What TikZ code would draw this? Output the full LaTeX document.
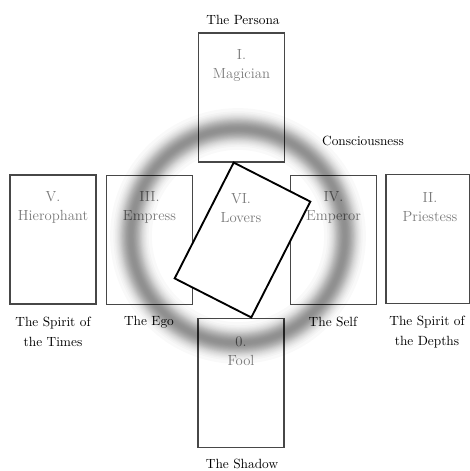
\documentclass[tikz,border=0pt]{standalone}
\usepackage{tikz}
\begin{document}
\begin{tikzpicture}[x=0.75pt,y=-0.75pt,
  card/.style={draw=black!72, line width=1.1pt, minimum width=64.5pt, minimum height=96.75pt, inner sep=0pt},
  lovcard/.style={draw=black, fill=white, line width=1.4pt, minimum width=64.5pt, minimum height=97.5pt, inner sep=0pt, rotate=-27},
  ctext/.style={text=black!52, align=center, font=\fontsize{11}{14.25}\selectfont, inner sep=0pt},
  lbl/.style={text=black, align=center, font=\fontsize{10}{15}\selectfont, inner sep=0pt}]
\useasboundingbox (0,0) rectangle (470,471);
\clip (0,0) rectangle (470,471);
% cards
\node[card] (mag) at (241.5,97.5) {};
\node[card] (hie) at (53,239.5) {};
\node[card] (emp) at (149.5,240) {};
\node[card] (empr) at (333.5,240) {};
\node[card, minimum width=63pt] (pri) at (428,239) {};
\node[card] (fool) at (241,383) {};
% card texts
\node[ctext] (tmag) at ([yshift=-24.75pt]mag.north) {I.\\Magician};
\node[ctext] (thie) at ([yshift=-24.75pt]hie.north) {V.\\Hierophant};
\node[ctext] (temp) at ([yshift=-24.75pt]emp.north) {III.\\Empress};
\node[ctext] (tempr) at ([yshift=-24.75pt]empr.north) {IV.\\Emperor};
\node[ctext] (tpri) at ([xshift=1.5pt,yshift=-24.75pt]pri.north) {II.\\Priestess};
\node[ctext] (tfool) at ([yshift=-25pt]fool.north) {0.\\Fool};
% blurred ring: stacked translucent annuli of decreasing width (gaussian profile)
\foreach \i in {1,...,24} {
  \pgfmathsetmacro\w{7.5*sqrt(2*ln(24/(\i-0.5)))}
  \fill[black, opacity=0.0246, even odd rule] (238,236) circle (107+\w) circle (107-\w);
}
% the crossing card
\node[lovcard] (lov) at (242.5,240) {};
\node[ctext] (tlov) at (241,208) {VI.\\Lovers};
% labels
\node[lbl] (persona) at (243,20) {The Persona};
\node[lbl] (consc) at (363,141) {Consciousness};
\node[lbl] (times) at (53,332) {The Spirit of\\the Times};
\node[lbl] (ego) at (149,322) {The Ego};
\node[lbl] (self) at (333,322) {The Self};
\node[lbl] (depths) at (427,332) {The Spirit of\\the Depths};
\node[lbl] (shadow) at (242,464) {The Shadow};
\end{tikzpicture}
\end{document}
